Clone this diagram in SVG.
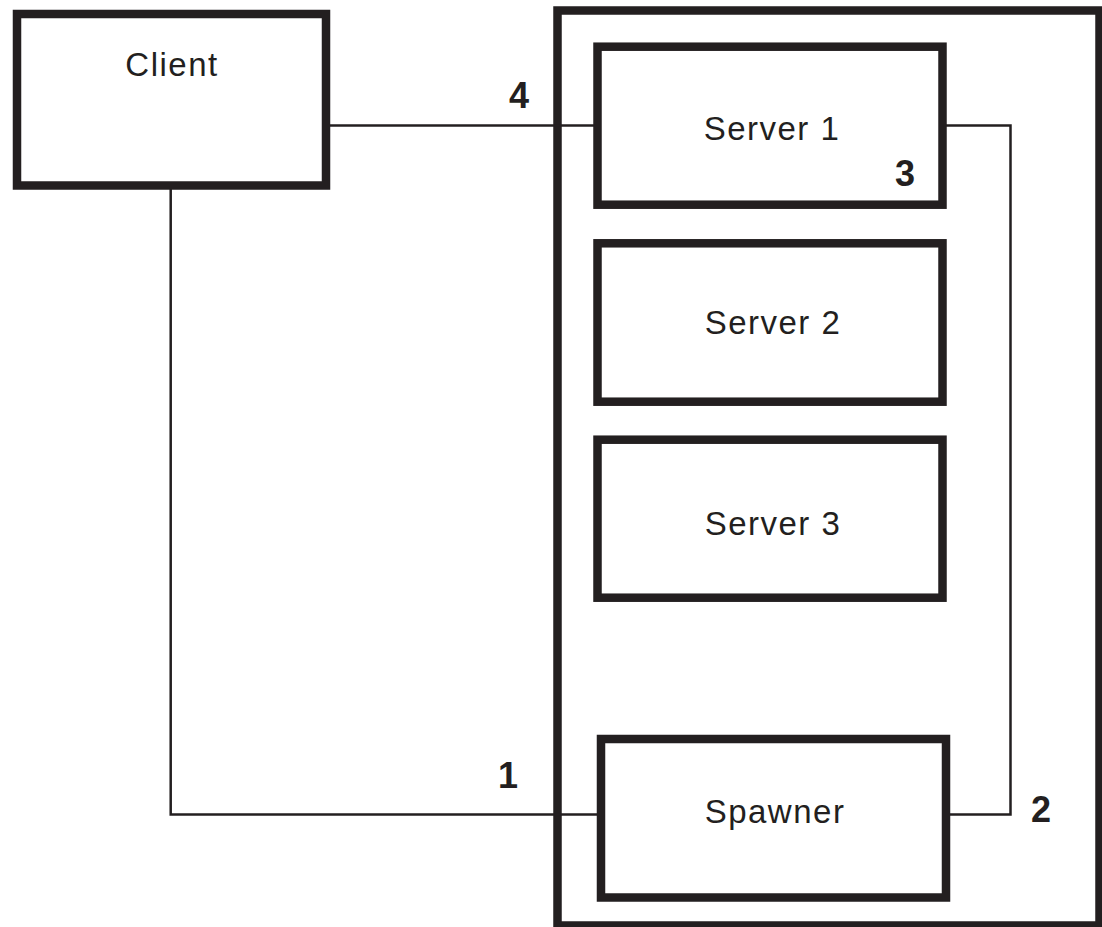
<svg xmlns="http://www.w3.org/2000/svg" width="1102" height="927" viewBox="0 0 1102 927">
  <style>
    .box { fill: #ffffff; stroke: #231f20; stroke-width: 8.5; }
    .frame { fill: none; stroke: #231f20; stroke-width: 8.5; }
    .conn { fill: none; stroke: #231f20; stroke-width: 2.5; }
    .lbl { font-family: "Liberation Sans", Arial, Helvetica, sans-serif; font-size: 33px; letter-spacing: 1.5px; fill: #231f20; text-anchor: middle; }
    .num { font-family: "Liberation Sans", Arial, Helvetica, sans-serif; font-size: 36px; font-weight: bold; fill: #231f20; text-anchor: middle; }
  </style>
  <rect width="1102" height="927" fill="#ffffff"/>
  <g id="container">
    <rect class="frame" x="557.5" y="10.5" width="542" height="915"/>
  </g>
  <g id="connectors">
    <path class="conn" d="M326 125.5 H597"/>
    <path class="conn" d="M942 125.5 H1010.5 V814.5 H946"/>
    <path class="conn" d="M170.7 185.5 V814.5 H601"/>
  </g>
  <g id="client">
    <rect class="box" x="17" y="14" width="309" height="171.5"/>
    <text class="lbl" x="172" y="76">Client</text>
  </g>
  <g id="server1">
    <rect class="box" x="597.5" y="46.7" width="345" height="158"/>
    <text class="lbl" x="772" y="140">Server 1</text>
  </g>
  <g id="server2">
    <rect class="box" x="597.5" y="243.3" width="345" height="158.4"/>
    <text class="lbl" x="773" y="334">Server 2</text>
  </g>
  <g id="server3">
    <rect class="box" x="597.5" y="439.7" width="345" height="158"/>
    <text class="lbl" x="773" y="535">Server 3</text>
  </g>
  <g id="spawner">
    <rect class="box" x="601" y="739" width="345" height="158.5"/>
    <text class="lbl" x="775" y="823">Spawner</text>
  </g>
  <g id="labels">
    <text class="num" x="519" y="108">4</text>
    <text class="num" x="905" y="186">3</text>
    <text class="num" x="508" y="788">1</text>
    <text class="num" x="1041" y="822">2</text>
  </g>
</svg>
